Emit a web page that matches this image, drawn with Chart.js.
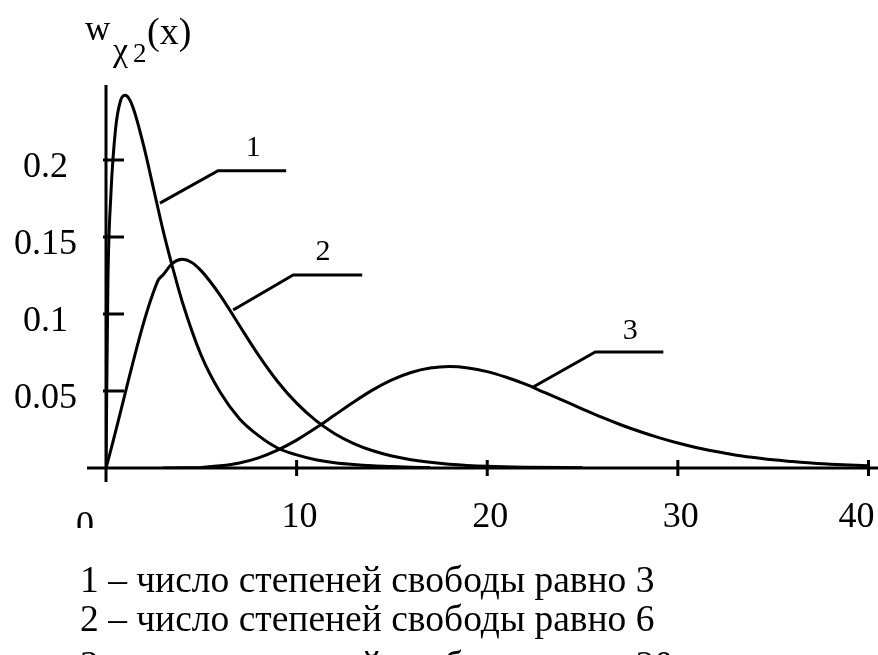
<!DOCTYPE html>
<html>
<head>
<meta charset="utf-8">
<script src="https://cdn.jsdelivr.net/npm/chart.js@4/dist/chart.umd.min.js"></script>
<style>
    html, body { margin: 0; padding: 0; background: #fff; }
    #wrap { position: relative; width: 878px; height: 655px; }
</style>
</head>
<body>
<div id="wrap"><canvas id="chiChart"></canvas></div>
<script>
// Плотность распределения хи-квадрат
const x1 = [0, 0.1, 0.25, 0.5, 0.75, 1, 1.25, 1.5, 2, 2.5, 3, 3.5, 4, 5, 6, 7, 8, 9, 10, 11, 12, 13, 14, 15, 16, 17];
const y1 = [0, 0.120, 0.176, 0.220, 0.238, 0.242, 0.239, 0.231, 0.208, 0.181, 0.154, 0.130, 0.108, 0.073, 0.049, 0.032, 0.021, 0.013, 0.0085, 0.0054, 0.0034, 0.0022, 0.0014, 0.0009, 0.0005, 0.0003];

const x2 = [0, 2.7, 3, 3.5, 4, 4.5, 5, 6, 7, 8, 9, 10, 11, 12, 13, 14, 15, 16, 17, 18, 20, 22, 25];
const y2 = [0, 0.121, 0.1255, 0.133, 0.1355, 0.1335, 0.128, 0.112, 0.0925, 0.0733, 0.0562, 0.0421, 0.0309, 0.0223, 0.0159, 0.0112, 0.0078, 0.0054, 0.0037, 0.0025, 0.0011, 0.0005, 0.0002];

const x3 = [3, 4, 5, 6, 7, 8, 9, 10, 11, 12, 13, 14, 15, 16, 17, 18, 19, 20, 21, 22, 23, 24, 25, 26, 27, 28, 29, 30, 31, 32, 33, 34, 35, 36, 37, 38, 39, 40];
const y3 = [0, 0.0001, 0.0004, 0.0014, 0.0033, 0.0066, 0.0116, 0.0181, 0.0259, 0.0344, 0.0429, 0.0507, 0.0572, 0.0620, 0.0649, 0.0659, 0.0650, 0.0626, 0.0589, 0.0544, 0.0491, 0.0437, 0.0383, 0.0330, 0.0281, 0.0237, 0.0197, 0.0162, 0.0132, 0.0107, 0.0085, 0.0068, 0.0053, 0.0042, 0.0032, 0.0025, 0.0019, 0.0014];

const xTicks = [0, 10, 20, 30, 40];
const xTickLabels = ['0', '10', '20', '30', '40'];
const yTicks = [0.05, 0.1, 0.15, 0.2];
const yTickLabels = ['0.05', '0.1', '0.15', '0.2'];

const curveLabels = ['1', '2', '3'];
const legendLines = [
    '1 – число степеней свободы равно 3',
    '2 – число степеней свободы равно 6',
    '3 – число степеней свободы равно 20'
];

// выноски к кривым (в единицах осей)
const leaders = [
    { from: [2.83, 0.172], elbow: [5.88, 0.193], to: [9.45, 0.193], text: [7.72, 0.2026] },
    { from: [6.67, 0.1026], elbow: [9.82, 0.1253], to: [13.44, 0.1253], text: [11.39, 0.135] },
    { from: [22.41, 0.0526], elbow: [25.67, 0.0753], to: [29.24, 0.0753], text: [27.5, 0.0838] }
];

const SERIF = '"Liberation Serif", "Times New Roman", serif';

function toPoints(xs, ys) {
    return xs.map((v, i) => ({ x: v, y: ys[i] }));
}

const drawPlugin = {
    id: 'axesAndNotes',
    beforeDatasetsDraw(chart) {
        const { ctx, scales: { x, y } } = chart;
        const x0 = x.getPixelForValue(0);
        const y0 = y.getPixelForValue(0);

        ctx.save();
        ctx.strokeStyle = '#000';
        ctx.lineWidth = 3;
        ctx.beginPath();
        // оси
        ctx.moveTo(x0, y.top + 2);
        ctx.lineTo(x0, y0 + 14);
        ctx.moveTo(x0 - 19, y0);
        ctx.lineTo(x.right, y0);
        // засечки
        yTicks.forEach(v => {
            const py = y.getPixelForValue(v);
            ctx.moveTo(x0 - 3, py);
            ctx.lineTo(x0 + 18, py);
        });
        xTicks.slice(1).forEach(v => {
            const px = x.getPixelForValue(v);
            ctx.moveTo(px, y0 - 8);
            ctx.lineTo(px, y0 + 8);
        });
        ctx.stroke();

        // подписи оси X
        ctx.fillStyle = '#000';
        ctx.font = '36px ' + SERIF;
        ctx.textBaseline = 'alphabetic';
        ctx.beginPath();
        ctx.rect(0, y0 + 20, chart.width, 524 - y0 - 20 + 4);
        ctx.clip();
        xTicks.forEach((v, i) => {
            const px = x.getPixelForValue(v);
            if (i === 0) {
                ctx.textAlign = 'right';
                ctx.fillText(xTickLabels[i], px - 12, y0 + 68);
            } else if (i === xTicks.length - 1) {
                ctx.textAlign = 'right';
                ctx.fillText(xTickLabels[i], px + 6, y0 + 59);
            } else {
                ctx.textAlign = 'center';
                ctx.fillText(xTickLabels[i], px + 3, y0 + 59);
            }
        });
        ctx.restore();
    },
    afterDatasetsDraw(chart) {
        const { ctx, scales: { x, y } } = chart;
        ctx.save();
        ctx.strokeStyle = '#000';
        ctx.fillStyle = '#000';
        ctx.lineWidth = 3;

        // выноски с номерами кривых
        leaders.forEach((l, i) => {
            ctx.beginPath();
            ctx.moveTo(x.getPixelForValue(l.from[0]), y.getPixelForValue(l.from[1]));
            ctx.lineTo(x.getPixelForValue(l.elbow[0]), y.getPixelForValue(l.elbow[1]));
            ctx.lineTo(x.getPixelForValue(l.to[0]), y.getPixelForValue(l.to[1]));
            ctx.stroke();
            ctx.font = '30px ' + SERIF;
            ctx.textAlign = 'center';
            ctx.textBaseline = 'alphabetic';
            ctx.fillText(curveLabels[i], x.getPixelForValue(l.text[0]), y.getPixelForValue(l.text[1]));
        });

        // заголовок оси Y: w_{χ²}(x)
        ctx.textAlign = 'left';
        ctx.font = '35px ' + SERIF;
        ctx.fillText('w', 85, 40);
        ctx.font = '34px ' + SERIF;
        ctx.fillText('χ', 113, 61);
        ctx.font = '27px ' + SERIF;
        ctx.fillText('2', 133, 62);
        ctx.font = '38px ' + SERIF;
        ctx.fillText('(x)', 147, 44);

        // пояснения под графиком
        ctx.font = '37.5px ' + SERIF;
        legendLines.forEach((t, i) => {
            ctx.fillText(t, 80, 592 + i * 39 + (i === 2 ? 7 : 0));
        });
        ctx.restore();
    }
};

function initializeChart() {
    const ctx = document.getElementById('chiChart');

    const lineStyle = {
        borderColor: '#000',
        borderWidth: 3,
        pointRadius: 0,
        fill: false,
        cubicInterpolationMode: 'monotone'
    };

    new Chart(ctx, {
        type: 'line',
        data: {
            datasets: [
                { label: curveLabels[0], data: toPoints(x1, y1), ...lineStyle },
                { label: curveLabels[1], data: toPoints(x2, y2), ...lineStyle },
                { label: curveLabels[2], data: toPoints(x3, y3), ...lineStyle }
            ]
        },
        options: {
            responsive: true,
            maintainAspectRatio: false,
            animation: false,
            layout: { padding: { top: 83, left: 0, right: 0, bottom: 0 } },
            plugins: {
                legend: { display: false },
                tooltip: { enabled: false }
            },
            scales: {
                x: {
                    type: 'linear',
                    min: 0,
                    max: 40.5,
                    grid: { display: false, drawTicks: false },
                    border: { display: false },
                    ticks: { display: false },
                    afterFit: scale => { scale.height = 187; }
                },
                y: {
                    min: 0,
                    max: 0.25,
                    grid: { display: false, drawTicks: false },
                    border: { display: false },
                    afterFit: scale => { scale.width = 106; },
                    afterBuildTicks: scale => {
                        scale.ticks = yTicks.map(v => ({ value: v }));
                    },
                    ticks: {
                        color: '#000',
                        font: { family: SERIF, size: 36 },
                        crossAlign: 'center',
                        padding: 29,
                        labelOffset: 8,
                        autoSkip: false,
                        callback: function(value) {
                            const i = yTicks.indexOf(value);
                            return i >= 0 ? yTickLabels[i] : '';
                        }
                    }
                }
            }
        },
        plugins: [drawPlugin]
    });
}

document.addEventListener('DOMContentLoaded', initializeChart);
</script>
</body>
</html>
